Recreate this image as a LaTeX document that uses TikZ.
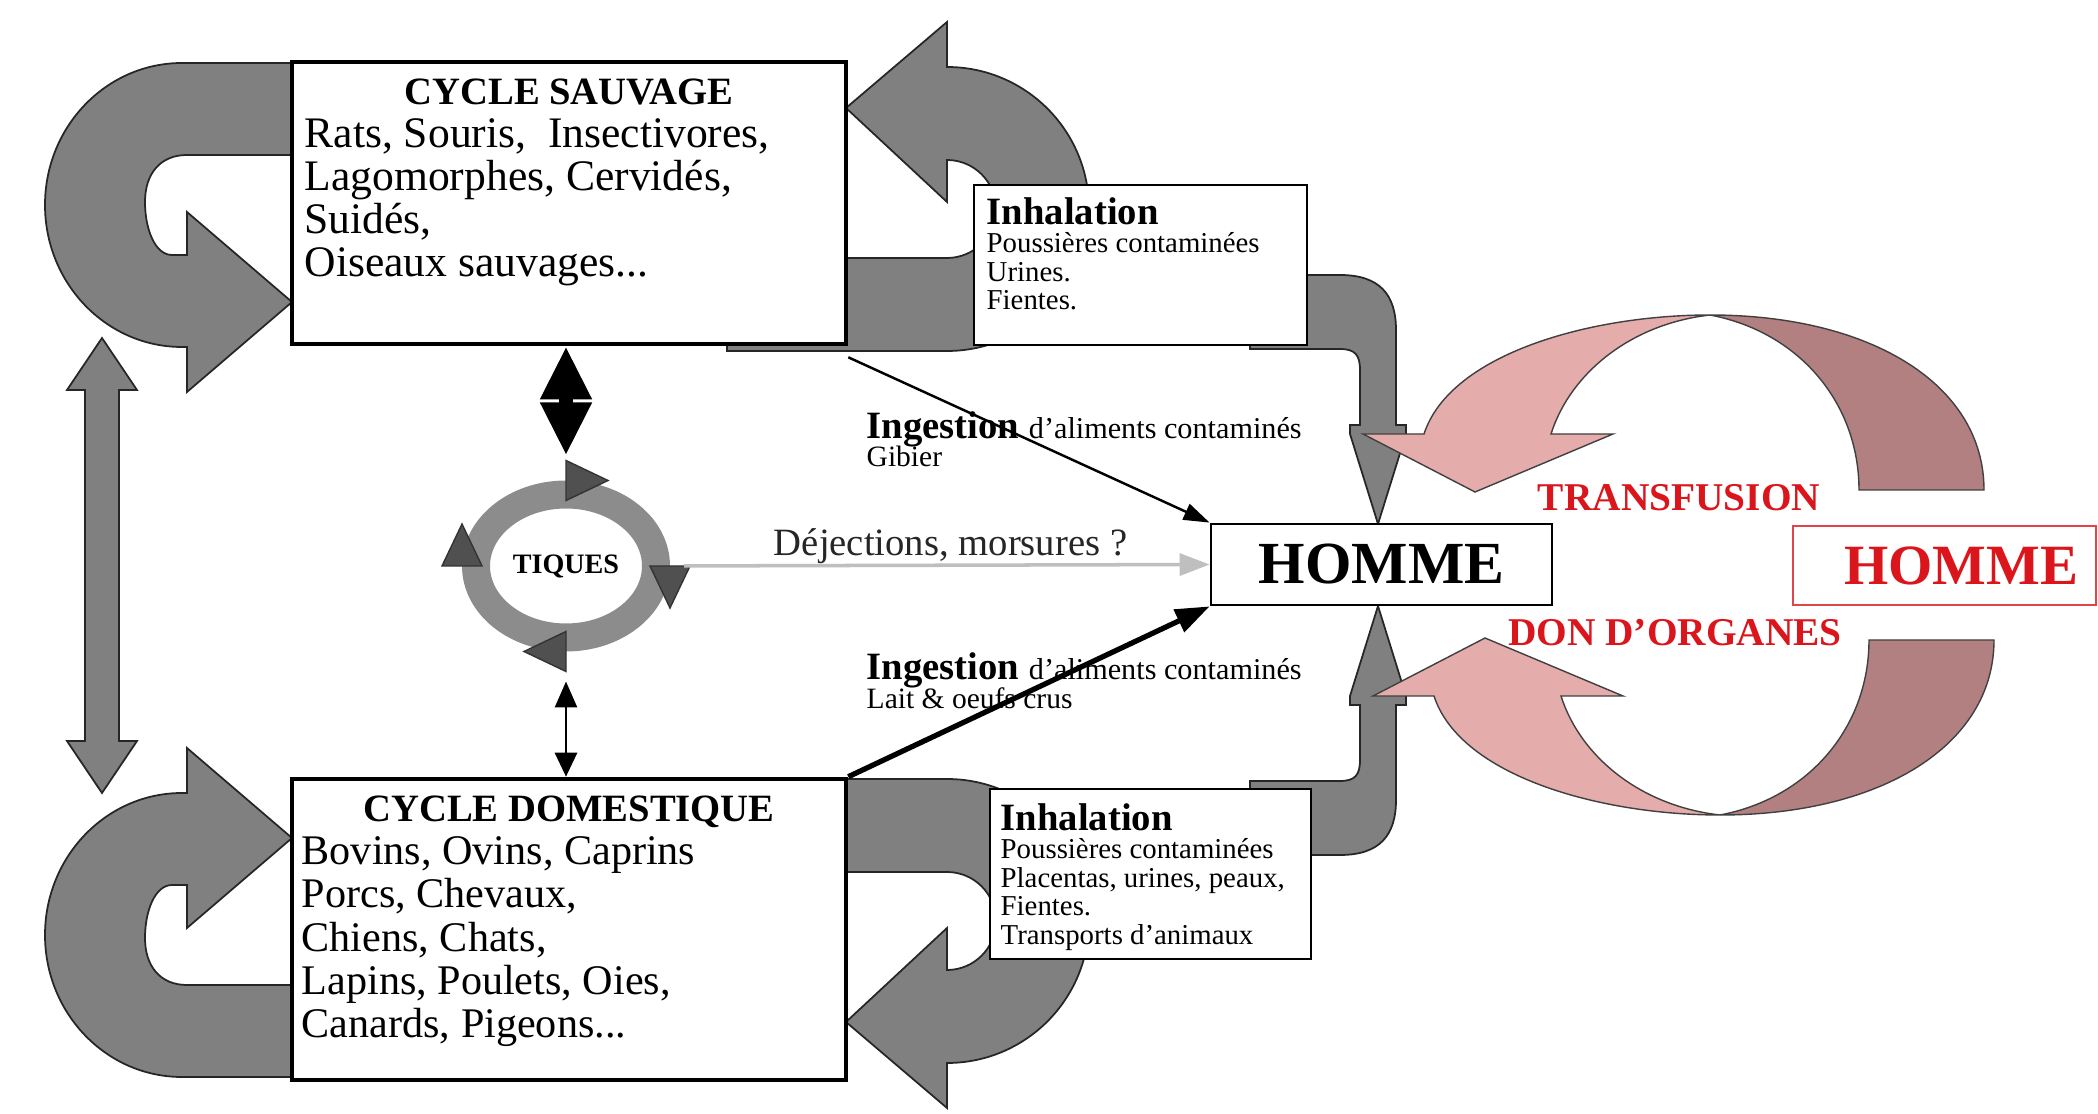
\documentclass[tikz,border=0pt]{standalone}
\usepackage{fontspec}
\setmainfont{Liberation Serif}
\usetikzlibrary{shapes.geometric}
\usetikzlibrary{calc}
\usetikzlibrary{positioning}
\usetikzlibrary{arrows.meta}

\definecolor{grisfleche}{RGB}{128,128,128}
\definecolor{grisanneau}{RGB}{140,140,140}
\definecolor{grisfonce}{RGB}{80,80,80}
\definecolor{roseclair}{RGB}{228,172,170}
\definecolor{rosefonce}{RGB}{178,128,128}
\definecolor{rougetexte}{RGB}{218,22,28}

\tikzset{
  grisbloc/.style={fill=grisfleche, draw=black!85, line width=0.5pt},
  rosebloc/.style={draw=black!75, line width=0.4pt},
  cadre/.style={draw, fill=white, line width=1.3pt, inner sep=0pt},
  petitcadre/.style={draw, fill=white, line width=0.7pt, inner sep=0pt},
  titre/.style={inner sep=0pt, font=\fontsize{11}{13}\selectfont\bfseries},
  liste/.style={inner sep=0pt, align=left, anchor=north west},
  inhaltitre/.style={inner sep=0pt, anchor=north west, font=\fontsize{11}{13}\selectfont\bfseries},
  inhalliste/.style={inner sep=0pt, align=left, font=\fontsize{8.2}{8.2}\selectfont},
  ingestion/.style={inner sep=0pt, anchor=north west, font=\fontsize{11}{13}\selectfont\bfseries},
  petit/.style={inner sep=0pt, font=\fontsize{8.4}{10}\selectfont},
  anneau/.style={ellipse, draw=grisanneau, line width=0.28cm, minimum width=1.80cm,
    minimum height=1.43cm, inner sep=0pt, font=\fontsize{8}{9}\selectfont\bfseries},
  cran/.style={fill=grisfonce, draw=black!80, line width=0.4pt},
  hommecadre/.style={draw, fill=white, line width=0.8pt, inner sep=0pt,
    font=\fontsize{17}{20}\selectfont\bfseries},
  rouge/.style={text=rougetexte, inner sep=0pt, font=\fontsize{11.2}{13}\selectfont\bfseries},
  ingfine/.style={line width=0.7pt, -{Triangle[length=2.6mm,width=1.7mm]}},
  ingforte/.style={line width=1.5pt, -{Triangle[length=3.4mm,width=2.4mm]}},
  dejection/.style={draw=black!25, line width=1pt, shorten <=0.14cm,
    -{Triangle[length=3mm,width=2.2mm]}},
  dblnoir/.style={line width=0.14cm, {Triangle[length=5.3mm,width=4.8mm]}-{Triangle[length=5.3mm,width=4.8mm]}},
  dblfin/.style={line width=0.8pt, {Triangle[length=2.6mm,width=2.2mm]}-{Triangle[length=2.4mm,width=2.2mm]}}
}

\begin{document}
\begin{tikzpicture}
\fill[white, use as bounding box] (0,0) rectangle (20.98,11.14);

% double fleche entre les deux cycles
\filldraw[grisbloc] (1.02,7.76) -- (1.37,7.24) -- (1.19,7.24) -- (1.19,3.73) -- (1.37,3.73)
  -- (1.02,3.21) -- (0.67,3.73) -- (0.85,3.73) -- (0.85,7.24) -- (0.67,7.24) -- cycle;

% boucles a gauche des cycles
\foreach \s/\m in {1/0, -1/10.88} {
  \begin{scope}[shift={(0,\m)}, yscale=\s]
    \filldraw[grisbloc] (2.93,10.51) -- (1.82,10.51)
      arc[start angle=90, end angle=270, x radius=1.37, y radius=1.42]
      -- (1.87,7.67) -- (1.87,7.22) -- (2.92,8.12) -- (1.87,9.02) -- (1.87,8.59) -- (1.72,8.59)
      .. controls (1.55,8.59) and (1.45,8.85) .. (1.45,9.12)
      .. controls (1.45,9.40) and (1.60,9.59) .. (1.87,9.59) -- (2.93,9.59) -- cycle;
  \end{scope}
}

% boucles a droite et fleches vers l'homme
\foreach \s/\m in {1/0, -1/10.98} {
  \begin{scope}[shift={(0,\m)}, yscale=\s]
    \filldraw[grisbloc] (8.46,10.06) -- (9.47,10.92) -- (9.47,10.47)
      arc[start angle=90, end angle=-90, radius=1.42] -- (7.27,7.63) -- (7.27,8.56) -- (9.47,8.56)
      arc[start angle=-90, end angle=90, radius=0.49] -- (9.47,9.12) -- cycle;
    \filldraw[grisbloc] (12.50,8.39) -- (13.40,8.39) .. controls (13.80,8.39) and (13.96,8.19) .. (13.96,7.84)
      -- (13.96,6.89) -- (14.06,6.89) -- (14.06,6.80) -- (13.78,5.90) -- (13.50,6.80) -- (13.50,6.89)
      -- (13.60,6.89) -- (13.60,7.44) .. controls (13.60,7.59) and (13.55,7.65) .. (13.40,7.65)
      -- (12.50,7.65) -- cycle;
  \end{scope}
}

% transfusion et dons d'organes
\foreach \s/\m/\d in {1/0/0, -1/10.98/0.1} {
  \begin{scope}[shift={(\d,\m)}, yscale=\s]
    \filldraw[rosebloc, fill=rosefonce] (17.10,7.99) .. controls (18.70,7.99) and (19.84,7.30) .. (19.84,6.24)
      -- (18.59,6.24) .. controls (18.59,7.10) and (18.00,7.82) .. (17.10,7.99) -- cycle;
    \filldraw[rosebloc, fill=roseclair] (13.63,6.80) -- (14.24,6.80)
      .. controls (14.50,7.60) and (15.90,7.99) .. (17.10,7.99)
      .. controls (16.30,7.90) and (15.70,7.40) .. (15.51,6.80) -- (16.13,6.80) -- (14.75,6.22) -- cycle;
  \end{scope}
}

% cycle sauvage
\node[cadre, minimum width=5.54cm, minimum height=2.82cm] (sauvage) at (5.69,9.11) {};
\node[titre, below=0.18cm of sauvage.north] (sauvageT) {CYCLE SAUVAGE};
\node[liste, font=\fontsize{12.4}{12.2}\selectfont] (sauvageL) at (3.04,9.96)
  {Rats, Souris,\ \ Insectivores,\\Lagomorphes, Cervidés,\\Suidés,\\Oiseaux sauvages...};

% cycle domestique
\node[cadre, minimum width=5.54cm, minimum height=3.01cm] (domestique) at (5.69,1.845) {};
\node[titre, below=0.18cm of domestique.north] (domestiqueT) {CYCLE DOMESTIQUE};
\node[liste, font=\fontsize{12}{12.3}\selectfont] (domestiqueL) at (3.01,2.78)
  {Bovins, Ovins, Caprins\\Porcs, Chevaux,\\Chiens, Chats,\\Lapins, Poulets, Oies,\\Canards, Pigeons...};

% inhalation
\node[petitcadre, minimum width=3.33cm, minimum height=1.60cm] (inhal1) at (11.405,8.49) {};
\node[inhaltitre] (inhal1T) at (9.86,9.17) {Inhalation};
\node[inhalliste, below=0.06cm of inhal1T.south west, anchor=north west] (inhal1L)
  {Poussières contaminées\\Urines.\\Fientes.};

\node[petitcadre, minimum width=3.21cm, minimum height=1.70cm] (inhal2) at (11.505,2.40) {};
\node[inhaltitre] (inhal2T) at (10.00,3.11) {Inhalation};
\node[inhalliste, below=0.06cm of inhal2T.south west, anchor=north west] (inhal2L)
  {Poussières contaminées\\Placentas, urines, peaux,\\Fientes.\\Transports d'animaux};

% homme
\node[hommecadre, minimum width=3.41cm, minimum height=0.81cm] (homme) at (13.815,5.495) {HOMME};
\node[draw=rougetexte!80, line width=0.6pt, minimum width=3.03cm, minimum height=0.79cm] (homme2) at (19.445,5.485) {};
\node[rouge, font=\fontsize{16.2}{18}\selectfont\bfseries] (homme2T) at (19.61,5.485) {HOMME};
\node[rouge] (transfusion) at (16.79,6.16) {TRANSFUSION};
\node[rouge] (organes) at (16.75,4.81) {DON D'ORGANES};

% tiques
\node[anneau] (tiques) at (5.66,5.48) {TIQUES};
\foreach \anc/\ang in {north/0, east/-90, south/180, west/90}
  \filldraw[cran] ($(tiques.\anc)+(\ang+90:0.2)$) -- ($(tiques.\anc)+(\ang-90:0.2)$)
    -- ($(tiques.\anc)+(\ang:0.42)$) -- cycle;

% ingestion
\node[ingestion] (ingest1) at (8.66,7.03) {Ingestion {\mdseries\fontsize{8.6}{10}\selectfont d'aliments contaminés}};
\node[petit, below=-0.02cm of ingest1.south west, anchor=north west] (gibier) {Gibier};
\node[ingestion] (ingest2) at (8.66,4.62) {Ingestion {\mdseries\fontsize{8.6}{10}\selectfont d'aliments contaminés}};
\node[petit, below=-0.02cm of ingest2.south west, anchor=north west] (lait) {Lait \& oeufs crus};

% liaisons
\draw[dblnoir] (sauvage.south -| tiques.north) -- ([yshift=0.25cm]tiques.north);
\draw[dblfin] ([yshift=-0.30cm]tiques.south) -- (domestique.north -| tiques.south);
\draw[dejection] (tiques.east) -- node[above, pos=0.52, inner sep=0pt, text=black!85,
  font=\fontsize{11}{13}\selectfont] (dejT) {Déjections, morsures ?} (homme.west);
\draw[ingfine] ([yshift=-0.11cm]sauvage.south east) -- (homme.north west);
\draw[ingforte] (domestique.north east) -- (homme.south west);
\end{tikzpicture}
\end{document}
